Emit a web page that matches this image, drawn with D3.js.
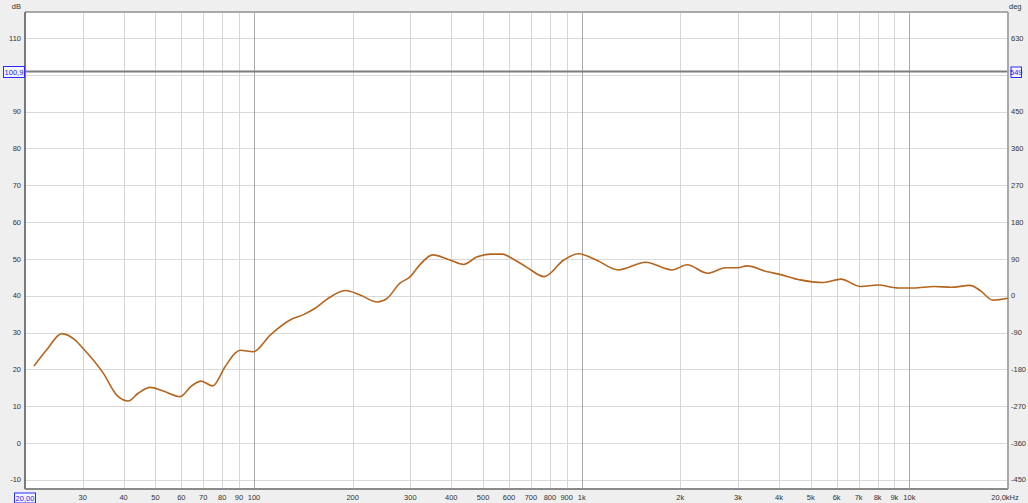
<!DOCTYPE html>
<html>
<head>
<meta charset="utf-8">
<script src="https://cdn.jsdelivr.net/npm/d3@7"></script>
<style>
  body { margin: 0; background: #efefef; }
  svg { display: block; }
  text { font-family: "Liberation Sans", Arial, sans-serif; font-size: 7.5px; fill: #333; }
</style>
</head>
<body>
<svg id="chart" width="1028" height="503"></svg>
<script>
var freqs = [21.3, 23.3, 25.9, 28.4, 30, 34.7, 38.1, 41.3, 44.3, 48.2, 52.9, 59.5, 64.5, 68.9, 74.8,
  81.6, 87.6, 90.6, 99.6, 112, 128.8, 141, 153.6, 166.8, 189.9, 210.8, 237.6, 254.8, 278.8,
  299.9, 320, 351, 396, 436, 478, 526, 575, 600, 681, 768, 882, 978, 1108, 1292, 1568, 1886,
  2098, 2422, 2750, 3000, 3193, 3690, 4024, 4640, 5472, 6186, 7098, 8000, 9246, 10300, 11900,
  13400, 15300, 16400, 18000, 20000];
var dbValues = [20.9, 25.3, 29.7, 28.0, 25.8, 18.9, 13.0, 11.4, 13.5, 15.1, 14.1, 12.6, 15.5, 16.8, 15.5,
  20.7, 24.4, 25.2, 24.8, 29.3, 33.4, 34.8, 36.6, 39.0, 41.4, 40.2, 38.3, 39.3, 43.4,
  45.2, 48.3, 51.1, 49.7, 48.5, 50.5, 51.3, 51.3, 50.6, 47.7, 45.2, 49.7, 51.4, 49.7, 47.0, 49.1, 47.0,
  48.4, 46.1, 47.6, 47.6, 48.1, 46.5, 45.8, 44.3, 43.6, 44.5, 42.5, 42.9, 42.1, 42.1, 42.5,
  42.3, 42.8, 41.5, 38.8, 39.3];

var minorFreqs = [30, 40, 50, 60, 70, 80, 90, 200, 300, 400, 500, 600, 700, 800, 900,
  2000, 3000, 4000, 5000, 6000, 7000, 8000, 9000];
var majorFreqs = [100, 1000, 10000];
var xTickValues = [30, 40, 50, 60, 70, 80, 90, 100, 200, 300, 400, 500, 600, 700, 800, 900,
  1000, 2000, 3000, 4000, 5000, 6000, 7000, 8000, 9000, 10000];
var xTickLabels = ["30", "40", "50", "60", "70", "80", "90", "100", "200", "300", "400", "500",
  "600", "700", "800", "900", "1k", "2k", "3k", "4k", "5k", "6k", "7k", "8k", "9k", "10k"];
var dbTicks = [-10, 0, 10, 20, 30, 40, 50, 60, 70, 80, 90, 100, 110];
var degLabels = ["-450", "-360", "-270", "-180", "-90", "0", "90", "180", "270", "360", "450", "540", "630"];
var cursorDb = 100.9;

var svg = d3.select("svg#chart");
var margin = { top: 12, right: 20, bottom: 14, left: 25 };
var width = 1028, height = 503;

var x = d3.scaleLog()
  .domain([20, 20000])
  .range([margin.left, width - margin.right]);
var y = d3.scaleLinear()
  .domain([-12.5, 117.07])
  .range([height - margin.bottom, margin.top]);

// plot background
svg.append("rect")
  .attr("x", margin.left)
  .attr("y", margin.top)
  .attr("width", x.range()[1] - margin.left)
  .attr("height", y.range()[0] - margin.top)
  .attr("fill", "#fff");

var grid = svg.append("g").attr("id", "grid");

grid.selectAll("line.h")
  .data(dbTicks)
  .enter()
  .append("line")
  .attr("class", "h")
  .attr("x1", margin.left)
  .attr("x2", x.range()[1])
  .attr("y1", d => Math.round(y(d)) + 0.5)
  .attr("y2", d => Math.round(y(d)) + 0.5)
  .attr("stroke", "#d9d9d9");

grid.selectAll("line.minor")
  .data(minorFreqs)
  .enter()
  .append("line")
  .attr("class", "minor")
  .attr("x1", d => Math.round(x(d)) + 0.5)
  .attr("x2", d => Math.round(x(d)) + 0.5)
  .attr("y1", margin.top)
  .attr("y2", y.range()[0])
  .attr("stroke", "#d6d6d6");

grid.selectAll("line.major")
  .data(majorFreqs)
  .enter()
  .append("line")
  .attr("class", "major")
  .attr("x1", d => Math.round(x(d)) + 0.5)
  .attr("x2", d => Math.round(x(d)) + 0.5)
  .attr("y1", margin.top)
  .attr("y2", y.range()[0])
  .attr("stroke", "#a9a9a9");

// cursor line
svg.append("line")
  .attr("x1", margin.left)
  .attr("x2", x.range()[1])
  .attr("y1", y(cursorDb))
  .attr("y2", y(cursorDb))
  .attr("stroke", "#7d7d7d")
  .attr("stroke-width", 2);

// frame
svg.append("line")
  .attr("x1", margin.left).attr("x2", x.range()[1])
  .attr("y1", margin.top).attr("y2", margin.top)
  .attr("stroke", "#a8a8a8").attr("stroke-width", 2);
svg.append("line")
  .attr("x1", x.range()[1]).attr("x2", x.range()[1])
  .attr("y1", margin.top).attr("y2", y.range()[0])
  .attr("stroke", "#a8a8a8").attr("stroke-width", 2);
svg.append("line")
  .attr("x1", margin.left).attr("x2", x.range()[1])
  .attr("y1", y.range()[0]).attr("y2", y.range()[0])
  .attr("stroke", "#8a8a8a").attr("stroke-width", 2);
svg.append("line")
  .attr("x1", margin.left).attr("x2", margin.left)
  .attr("y1", margin.top).attr("y2", y.range()[0])
  .attr("stroke", "#7a7a7a").attr("stroke-width", 2);

// response curve
var pts = freqs.map((f, i) => [f, dbValues[i]]);
var line = d3.line()
  .x(d => x(d[0]))
  .y(d => y(d[1]))
  .curve(d3.curveMonotoneX);

svg.append("path")
  .datum(pts)
  .attr("d", line)
  .attr("fill", "none")
  .attr("stroke", "#b5651e")
  .attr("stroke-width", 1.6);

// the 100 dB / 540 deg labels sit under the cursor read-outs
var visibleTicks = dbTicks.filter(d => d !== 100);

svg.append("g")
  .selectAll("text")
  .data(visibleTicks)
  .enter()
  .append("text")
  .attr("x", 21)
  .attr("y", d => y(d))
  .attr("dy", "0.35em")
  .attr("text-anchor", "end")
  .text(d => d);

svg.append("g")
  .selectAll("text")
  .data(visibleTicks)
  .enter()
  .append("text")
  .attr("x", 1011)
  .attr("y", d => y(d))
  .attr("dy", "0.35em")
  .text(d => degLabels[dbTicks.indexOf(d)]);

svg.append("text").attr("x", 21).attr("y", 6.5).attr("dy", "0.35em")
  .attr("text-anchor", "end").text("dB");
svg.append("text").attr("x", 1009).attr("y", 6.5).attr("dy", "0.35em").text("deg");

// x labels
svg.append("g")
  .selectAll("text")
  .data(xTickValues)
  .enter()
  .append("text")
  .attr("x", d => x(d))
  .attr("y", 497)
  .attr("dy", "0.35em")
  .attr("text-anchor", "middle")
  .text((d, i) => xTickLabels[i]);

svg.append("text").attr("x", 1005).attr("y", 497).attr("dy", "0.35em")
  .attr("text-anchor", "middle").text("20,0kHz");

// boxed cursor read-outs
var boxes = [
  { x: 3, y: 66, w: 21, h: 11, label: "100,9" },
  { x: 1010.5, y: 66.5, w: 10.5, h: 10.5, label: "549" },
  { x: 14, y: 492.5, w: 21, h: 10, label: "20,00" }
];
var box = svg.append("g").selectAll("g")
  .data(boxes)
  .enter()
  .append("g");
box.append("rect")
  .attr("x", d => d.x + 0.5)
  .attr("y", d => d.y + 0.5)
  .attr("width", d => d.w)
  .attr("height", d => d.h)
  .attr("fill", "#f4f6ff")
  .attr("stroke", "#2a2aff");
box.append("text")
  .attr("x", d => d.x + 0.5 + d.w / 2)
  .attr("y", d => d.y + 0.5 + d.h / 2)
  .attr("dy", "0.35em")
  .attr("text-anchor", "middle")
  .style("fill", "#2020e0")
  .text(d => d.label);
</script>
</body>
</html>
